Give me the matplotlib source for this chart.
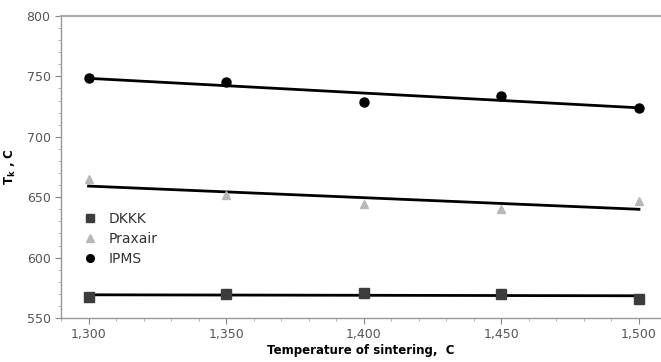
import matplotlib
matplotlib.use("Agg")
import matplotlib.pyplot as plt
import numpy as np
from matplotlib.ticker import MultipleLocator, FuncFormatter

temps = [1300, 1350, 1400, 1450, 1500]
dkkk = [567, 570, 571, 570, 566]
praxair = [665, 652, 644, 640, 647]
ipms = [749, 745, 729, 734, 724]

fig = plt.figure(figsize=(6.61, 3.62), dpi=100)
ax = fig.add_axes([61/661, 44/362, 600/661, 302/362])

series = [
    ("DKKK", dkkk, "s", "#3c3c3c", 6.5),
    ("Praxair", praxair, "^", "#b8b8b8", 6),
    ("IPMS", ipms, "o", "#000000", 6.5),
]
xs = np.array(temps, dtype=float)
for name, vals, mk, col, ms in series:
    ax.plot(temps, vals, linestyle="none", marker=mk, color=col, markersize=ms,
            label=name, zorder=3)
    k, b = np.polyfit(xs, np.array(vals, dtype=float), 1)
    ax.plot([xs[0], xs[-1]], [k*xs[0]+b, k*xs[-1]+b], color="black", lw=2, zorder=2)

ax.set_xlim(1290, 1508)
ax.set_ylim(550, 800)
ax.xaxis.set_major_locator(MultipleLocator(50))
ax.xaxis.set_minor_locator(MultipleLocator(10))
ax.yaxis.set_major_locator(MultipleLocator(50))
ax.yaxis.set_minor_locator(MultipleLocator(10))
ax.xaxis.set_major_formatter(FuncFormatter(lambda v, p: f"{int(v):,}"))

ax.spines["right"].set_visible(False)
for s in ["left", "bottom", "top"]:
    ax.spines[s].set_color("#999999")
    ax.spines[s].set_linewidth(1.0)
ax.spines["top"].set_linewidth(1.5)
ax.spines["top"].set_color("#aaaaaa")

ax.tick_params(axis="both", which="major", length=4, color="#888888",
               labelsize=9, labelcolor="#555555", direction="out")
ax.tick_params(axis="both", which="minor", length=2, color="#aaaaaa", direction="out")
ax.tick_params(axis="x", which="both", top=False)

ax.set_xlabel("Temperature of sintering,  C", fontsize=8.5, fontweight="bold", labelpad=2)
ax.set_ylabel(r"T$_\mathbf{k}$ , C", fontsize=8.5, fontweight="bold", labelpad=6)

leg = ax.legend(loc="upper left", bbox_to_anchor=(0.03, 0.37), frameon=False,
                fontsize=10, handletextpad=0.9, labelspacing=0.45, handlelength=0.8,
                borderaxespad=0, markerscale=0.85)
for t in leg.get_texts():
    t.set_color("#333333")

fig.savefig("out.png", dpi=100)
